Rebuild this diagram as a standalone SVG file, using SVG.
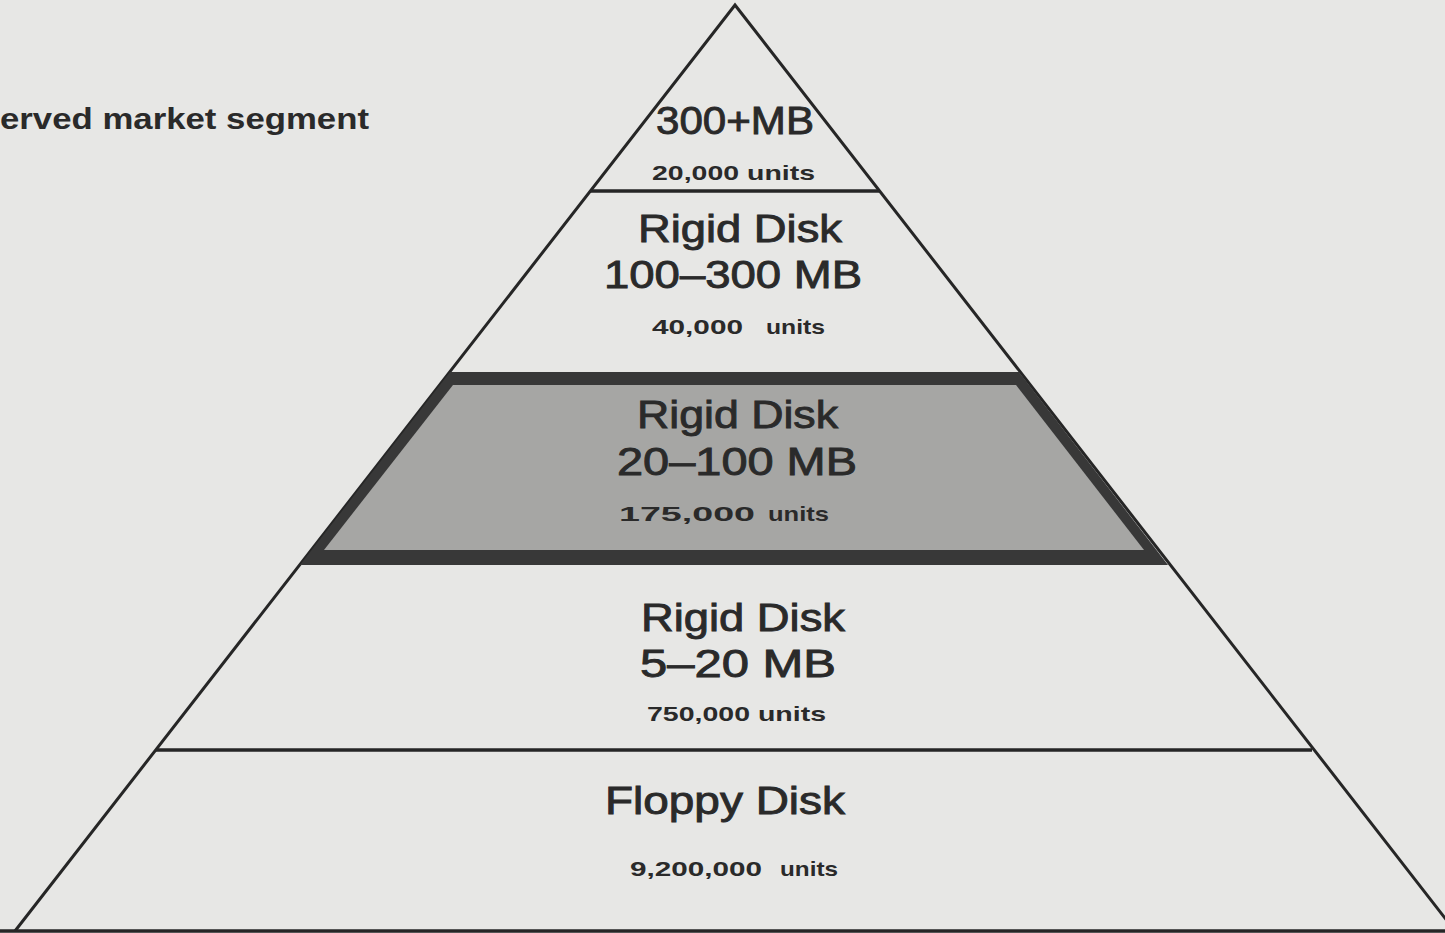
<svg xmlns="http://www.w3.org/2000/svg" width="1445" height="933" viewBox="0 0 1445 933">
<defs>
<style>
.bg{fill:#e7e7e5}
.edge{fill:none;stroke:#262626;stroke-width:3;stroke-linejoin:miter}
.sep{stroke:#262626;stroke-width:3.5}
.big{font-family:"Liberation Sans",Arial,sans-serif;font-size:39px;fill:#2a2a2a;stroke:#2a2a2a;stroke-width:0.9}
.units{font-family:"Liberation Sans",Arial,sans-serif;font-size:21px;font-weight:bold;fill:#2a2a2a}
.label{font-family:"Liberation Sans",Arial,sans-serif;font-size:30px;font-weight:bold;fill:#2a2a2a}
</style>
</defs>
<rect class="bg" x="0" y="0" width="1445" height="933"/>

<g id="connectors">
<polyline class="edge" points="15,931 735,5 1455,931"/>
<line class="sep" x1="0" y1="931" x2="1445" y2="931"/>
</g>

<g id="label-served">
<text class="label" x="0" y="129" textLength="369" lengthAdjust="spacingAndGlyphs">erved market segment</text>
</g>

<g id="tier-300plus">
<line class="sep" x1="590" y1="191" x2="879" y2="191"/>
<text class="big" x="656" y="134" font-size="42" textLength="158" lengthAdjust="spacingAndGlyphs">300+MB</text>
<text class="units" x="652" y="180" textLength="163" lengthAdjust="spacingAndGlyphs">20,000 units</text>
</g>

<g id="tier-100-300">
<text class="big" x="638" y="242" textLength="204" lengthAdjust="spacingAndGlyphs">Rigid Disk</text>
<text class="big" x="604" y="288" textLength="258" lengthAdjust="spacingAndGlyphs">100–300 MB</text>
<text class="units" x="652" y="334" textLength="91" lengthAdjust="spacingAndGlyphs">40,000</text>
<text class="units" x="766" y="334" textLength="59" lengthAdjust="spacingAndGlyphs">units</text>
</g>

<g id="tier-20-100">
<polygon fill="#383838" points="450,372 1019,372 1168,565 300,565"/>
<polygon fill="#a6a6a4" points="453,385 1016,385 1144,550 324,550"/>
<text class="big" x="637" y="428" textLength="201" lengthAdjust="spacingAndGlyphs">Rigid Disk</text>
<text class="big" x="617" y="475" textLength="240" lengthAdjust="spacingAndGlyphs">20–100 MB</text>
<text class="units" x="619" y="521" font-size="29" textLength="136" lengthAdjust="spacingAndGlyphs">175,000</text>
<text class="units" x="768" y="521" font-size="21" textLength="61" lengthAdjust="spacingAndGlyphs">units</text>
</g>

<g id="tier-5-20">
<line class="sep" x1="156" y1="750" x2="1312" y2="750"/>
<text class="big" x="641" y="631" textLength="204" lengthAdjust="spacingAndGlyphs">Rigid Disk</text>
<text class="big" x="640" y="677" textLength="196" lengthAdjust="spacingAndGlyphs">5–20 MB</text>
<text class="units" x="647" y="721" textLength="179" lengthAdjust="spacingAndGlyphs">750,000 units</text>
</g>

<g id="tier-floppy">
<text class="big" x="605" y="814" textLength="240" lengthAdjust="spacingAndGlyphs">Floppy Disk</text>
<text class="units" x="630" y="876" textLength="132" lengthAdjust="spacingAndGlyphs">9,200,000</text>
<text class="units" x="780" y="876" textLength="58" lengthAdjust="spacingAndGlyphs">units</text>
</g>
</svg>
